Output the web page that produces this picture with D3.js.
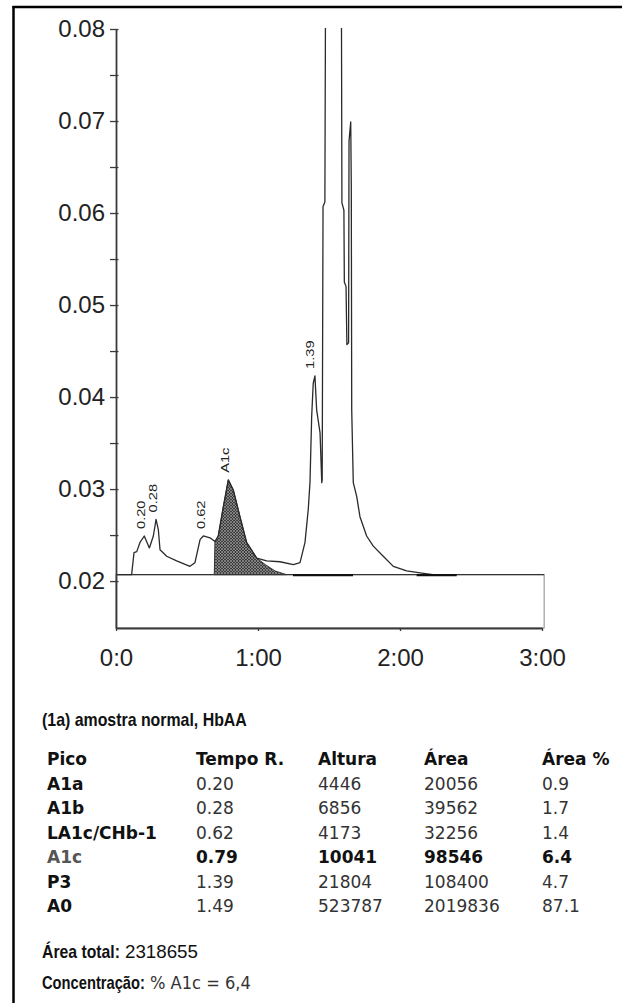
<!DOCTYPE html>
<html>
<head>
<meta charset="utf-8">
<script src="https://cdn.jsdelivr.net/npm/d3@7/dist/d3.min.js"></script>
<style>
  html, body { margin: 0; padding: 0; background: #fff; }
  svg { display: block; }
</style>
</head>
<body>
<svg id="chart" width="622" height="1003"></svg>
<script>
// ---------- DATA ----------
const traceTimes = [0.000, 0.110, 0.127, 0.146, 0.169, 0.199, 0.235, 0.263, 0.282, 0.298,
  0.310, 0.357, 0.427, 0.521, 0.556, 0.592, 0.615, 0.662, 0.697, 0.720,
  0.756, 0.791, 0.826, 0.873, 0.920, 0.991, 1.061, 1.155, 1.249, 1.296,
  1.331, 1.354, 1.366, 1.378, 1.389, 1.401, 1.413, 1.437, 1.449, 1.452,
  1.458, 1.471, 1.475, 1.520, 1.585, 1.588, 1.591, 1.605, 1.608, 1.620,
  1.626, 1.638, 1.641, 1.653, 1.657, 1.660, 1.671, 1.695, 1.718, 1.765,
  1.812, 1.882, 1.953, 2.047, 2.141, 2.232, 2.400];
const traceValues = [0.0207, 0.0207, 0.0231, 0.0232, 0.0242, 0.0249, 0.0236, 0.0249, 0.0267, 0.0256,
  0.0234, 0.0227, 0.0222, 0.0216, 0.0220, 0.0245, 0.0249, 0.0247, 0.0243, 0.0249,
  0.0281, 0.0310, 0.0299, 0.0270, 0.0242, 0.0225, 0.0222, 0.0221, 0.0218, 0.0220,
  0.0242, 0.0278, 0.0307, 0.0379, 0.0415, 0.0423, 0.0386, 0.0361, 0.0307, 0.0310,
  0.0607, 0.0612, 0.0810, 0.1300, 0.0810, 0.0800, 0.0611, 0.0603, 0.0525, 0.0520,
  0.0457, 0.0459, 0.0678, 0.0699, 0.0630, 0.0386, 0.0307, 0.0292, 0.0270, 0.0249,
  0.0238, 0.0227, 0.0216, 0.0211, 0.0209, 0.0207, 0.0207];

// A1c integrated (shaded) peak
const a1cTimes  = [0.692, 0.697, 0.720, 0.756, 0.791, 0.826, 0.873, 0.920, 0.991, 1.050, 1.120, 1.200];
const a1cValues = [0.0207, 0.0243, 0.0249, 0.0281, 0.0310, 0.0299, 0.0270, 0.0242, 0.0225, 0.0218, 0.0211, 0.0207];

const baselineValue = 0.0207;
const boxEnd = 3.015;
const baselineSegments = [[1.246, 1.669], [2.117, 2.399]];

const peakLabels  = ["0.20", "0.28", "0.62", "A1c", "1.39"];
const peakTimes   = [0.20, 0.28, 0.62, 0.79, 1.39];
const peakHeights = [0.0249, 0.0267, 0.0249, 0.0310, 0.0423];

const yMajorTicks = [0.02, 0.03, 0.04, 0.05, 0.06, 0.07, 0.08];
const yMinorTicks = [0.025, 0.035, 0.045, 0.055, 0.065, 0.075];
const xTicks = [0, 1, 2, 3];
const xTickLabels = ["0:0", "1:00", "2:00", "3:00"];

const caption = "(1a) amostra normal, HbAA";
const headers = ["Pico", "Tempo R.", "Altura", "Área", "Área %"];
const picos   = ["A1a", "A1b", "LA1c/CHb-1", "A1c", "P3", "A0"];
const tempos  = ["0.20", "0.28", "0.62", "0.79", "1.39", "1.49"];
const alturas = ["4446", "6856", "4173", "10041", "21804", "523787"];
const areas   = ["20056", "39562", "32256", "98546", "108400", "2019836"];
const areaPct = ["0.9", "1.7", "1.4", "6.4", "4.7", "87.1"];
const boldRow = 3;
const areaTotalLabel = "Área total:";
const areaTotal = "2318655";
const concLabel = "Concentração:";
const concentracao = "% A1c = 6,4";

// ---------- CHART ----------
const svg = d3.select("#chart");
const x = d3.scaleLinear().domain([0, 3]).range([116, 542]);
const y = d3.scaleLinear().domain([0.0149, 0.08]).range([628, 29]);

const defs = svg.append("defs");
const pat = defs.append("pattern").attr("id", "hatch")
  .attr("width", 3).attr("height", 3).attr("patternUnits", "userSpaceOnUse");
pat.append("rect").attr("width", 3).attr("height", 3).attr("fill", "#3c3c3c");
pat.append("path").attr("d", "M0,0 L3,3 M3,0 L0,3").attr("stroke", "#a8a8a8").attr("stroke-width", 0.6);

defs.append("clipPath").attr("id", "plotClip").append("rect")
  .attr("x", x(0)).attr("y", y(0.0801))
  .attr("width", x(boxEnd) - x(0) + 2).attr("height", y(0.0149) - y(0.0801));

// frame
svg.append("line").attr("x1", 13.5).attr("x2", 13.5).attr("y1", 6).attr("y2", 1003)
  .attr("stroke", "#000").attr("stroke-width", 2.5);
svg.append("line").attr("x1", 12.5).attr("x2", 622).attr("y1", 7).attr("y2", 7)
  .attr("stroke", "#000").attr("stroke-width", 2.5);

// box below the baseline
svg.append("rect")
  .attr("x", x(0)).attr("y", y(baselineValue))
  .attr("width", x(boxEnd) - x(0)).attr("height", y(0.0149) - y(baselineValue))
  .attr("fill", "#fff").attr("stroke", "#888").attr("stroke-width", 1);
svg.append("line")
  .attr("x1", x(0)).attr("x2", x(boxEnd))
  .attr("y1", y(baselineValue)).attr("y2", y(baselineValue))
  .attr("stroke", "#333").attr("stroke-width", 1.2);

const plot = svg.append("g").attr("clip-path", "url(#plotClip)");

// shaded A1c area
const shadePts = a1cTimes.map((t, i) => [t, a1cValues[i]]);
plot.append("path")
  .attr("d", d3.line().x(d => x(d[0])).y(d => y(d[1]))(shadePts) + "Z")
  .attr("fill", "url(#hatch)").attr("stroke", "#333").attr("stroke-width", 1);

// trace
const tracePts = traceTimes.map((t, i) => [t, traceValues[i]]);
plot.append("path")
  .attr("d", d3.line().x(d => x(d[0])).y(d => y(d[1]))(tracePts))
  .attr("fill", "none").attr("stroke", "#2a2a2a").attr("stroke-width", 1.3)
  .attr("stroke-linejoin", "round");

// integration baseline segments
plot.selectAll(".bseg").data(baselineSegments).enter().append("line")
  .attr("x1", d => x(d[0])).attr("x2", d => x(d[1]))
  .attr("y1", y(baselineValue) + 0.5).attr("y2", y(baselineValue) + 0.5)
  .attr("stroke", "#111").attr("stroke-width", 2.2);

// axes
const axisColor = "#3a3a3a";
const yAxis = svg.append("g").attr("transform", `translate(${x(0)},0)`)
  .call(d3.axisLeft(y).tickValues(yMajorTicks).tickSize(6).tickSizeOuter(0).tickPadding(5)
    .tickFormat(d3.format(".2f")));
const yMinor = svg.append("g").attr("transform", `translate(${x(0)},0)`)
  .call(d3.axisLeft(y).tickValues(yMinorTicks).tickSize(6).tickSizeOuter(0).tickFormat(""));
yMinor.select(".domain").remove();
[yAxis, yMinor].forEach(g => {
  g.selectAll(".tick line").attr("x1", 2.5).attr("stroke", axisColor).attr("stroke-width", 1.3);
});
yAxis.select(".domain").attr("stroke", axisColor).attr("stroke-width", 1.8);
yAxis.selectAll(".tick text")
  .attr("font-family", "'Liberation Sans', Arial, sans-serif").attr("font-size", 24)
  .attr("fill", "#222");

const xAxis = svg.append("g").attr("transform", `translate(0,${y(0.0149)})`)
  .call(d3.axisBottom(x).tickValues(xTicks).tickSize(3).tickSizeOuter(0).tickPadding(18)
    .tickFormat((d, i) => xTickLabels[i]));
xAxis.select(".domain").attr("stroke", axisColor).attr("stroke-width", 1.8);
xAxis.selectAll(".tick line").attr("stroke", axisColor).attr("stroke-width", 1.3);
xAxis.selectAll(".tick text")
  .attr("font-family", "'Liberation Sans', Arial, sans-serif").attr("font-size", 24)
  .attr("fill", "#222");

// peak labels (rotated, drawn tall and narrow like the instrument font)
svg.selectAll(".plabel").data(peakLabels).enter().append("text")
  .attr("class", "plabel")
  .attr("font-family", "'Liberation Sans', Arial, sans-serif").attr("font-size", 11)
  .attr("fill", "#222")
  .text(d => d)
  .attr("transform", (d, i) =>
    `translate(${x(peakTimes[i]) + 1},${y(peakHeights[i]) - 7}) rotate(-90) scale(1.33,1)`);

// ---------- TEXT BLOCK ----------
// helper: text squeezed horizontally to a target width
function fitText(str, px, py, target, opts) {
  const t = svg.append("text")
    .attr("font-family", opts.family || "'Liberation Sans', Arial, sans-serif")
    .attr("font-size", opts.size || 18)
    .attr("font-weight", opts.weight || "normal")
    .attr("fill", opts.fill || "#111")
    .text(str);
  const w = t.node().getComputedTextLength();
  t.attr("transform", `translate(${px},${py}) scale(${target / w},1)`);
  return t;
}

fitText(caption, 42, 726, 205, { weight: "bold" });

const colX = [47, 196, 318, 424, 542];
const rowY = d3.scaleLinear().domain([0, 6]).range([765, 912]);
const tableFont = "'DejaVu Sans', Verdana, sans-serif";

svg.selectAll(".hdr").data(headers).enter().append("text")
  .attr("x", (d, i) => colX[i]).attr("y", rowY(0))
  .attr("font-family", tableFont).attr("font-size", 17).attr("font-weight", "bold")
  .attr("fill", "#111").text(d => d);

const columns = [picos, tempos, alturas, areas, areaPct];
columns.forEach((col, c) => {
  svg.selectAll(".col" + c).data(col).enter().append("text")
    .attr("x", colX[c]).attr("y", (d, r) => rowY(r + 1))
    .attr("font-family", tableFont).attr("font-size", 17)
    .attr("font-weight", (d, r) => (c === 0 || r === boldRow) ? "bold" : "normal")
    .attr("fill", (d, r) => (c === 0 && r === boldRow) ? "#555" : (c === 0 || r === boldRow ? "#111" : "#333"))
    .text(d => d);
});

fitText(areaTotalLabel, 42, 958, 78, { weight: "bold" });
fitText(areaTotal, 125, 958, 73, {});
fitText(concLabel, 42, 989, 103, { weight: "bold" });
fitText(concentracao, 150, 989, 101, { family: tableFont, size: 17, fill: "#333" });
</script>
</body>
</html>
